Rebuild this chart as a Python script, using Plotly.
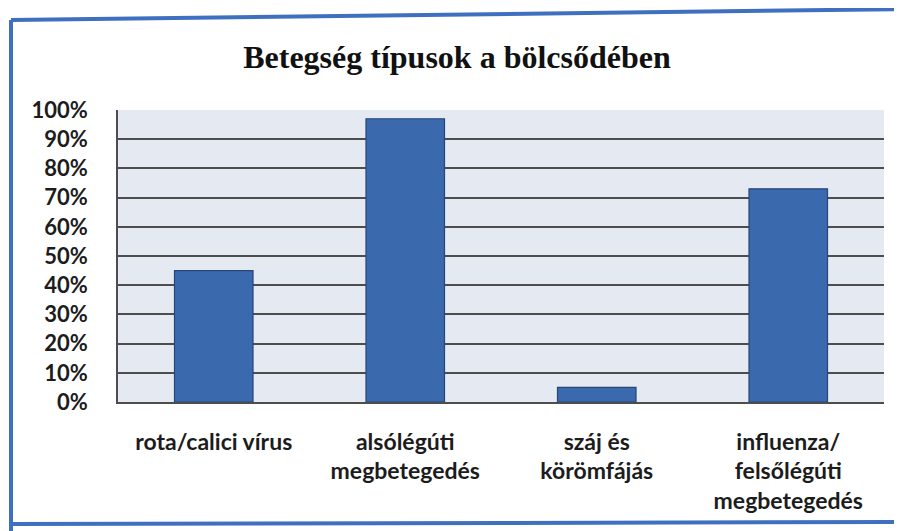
import plotly.graph_objects as go

categories = ["rota/calici vírus", "alsólégúti<br>megbetegedés", "száj és<br>körömfájás",
              "influenza/<br>felsőlégúti<br>megbetegedés"]
values = [0.45, 0.97, 0.05, 0.73]
y_ticks = [i / 10 for i in range(11)]
y_tick_labels = [f"{i*10}%" for i in range(11)]

OFF = 8  # page body margin
W, H = 902 - OFF, 531 - OFF
L, R, T, B = 118 - OFF, 18, 110 - OFF, 129
pw, ph = W - L - R, H - T - B

def px(x):
    return (x - OFF - L) / pw

def py(y):
    return (H - B - (y - OFF)) / ph

fig = go.Figure(go.Bar(
    x=categories, y=values,
    marker=dict(color="#3b69ad", line=dict(color="#27467a", width=1.2)),
    width=0.41,
))

frame_col = "#3e70bf"
shapes = [
    dict(type="line", xref="paper", yref="paper", x0=px(11), y0=py(20), x1=px(910), y1=py(9),
         line=dict(color=frame_col, width=4)),
    dict(type="line", xref="paper", yref="paper", x0=px(11), y0=py(20), x1=px(11), y1=py(540),
         line=dict(color=frame_col, width=4)),
    dict(type="line", xref="paper", yref="paper", x0=px(11), y0=py(524), x1=px(910), y1=py(522),
         line=dict(color=frame_col, width=4)),
]

fig.update_layout(
    width=W, height=H,
    margin=dict(l=L, r=R, t=T, b=B),
    paper_bgcolor="white",
    plot_bgcolor="#e5e9f2",
    showlegend=False,
    shapes=shapes,
    title=dict(text="<b>Betegség típusok a bölcsődében</b>", x=(457 - OFF) / W, y=1 - (57 - OFF) / H,
               xref="container", yref="container", xanchor="center", yanchor="middle",
               font=dict(family="Liberation Serif", size=32, color="#111111")),
    font=dict(family="Lato", size=19, color="#1c1c1c"),
)
fig.update_yaxes(
    range=[0, 1], tickvals=y_ticks, ticktext=y_tick_labels,
    showgrid=True, gridcolor="#4d4d4d", gridwidth=1.8,
    showline=True, linecolor="#4d4d4d", linewidth=1.8,
    tickfont=dict(family="Lato", size=22, weight="bold", color="#1c1c1c"),
    ticks="", ticklabelstandoff=24, zeroline=False,
)
fig.update_xaxes(
    showline=True, linecolor="#4d4d4d", linewidth=1.8,
    tickfont=dict(family="Lato", size=23, weight="bold", color="#1c1c1c"),
    ticks="", ticklabelstandoff=18, tickangle=0,
)

fig.write_html("out.html")
